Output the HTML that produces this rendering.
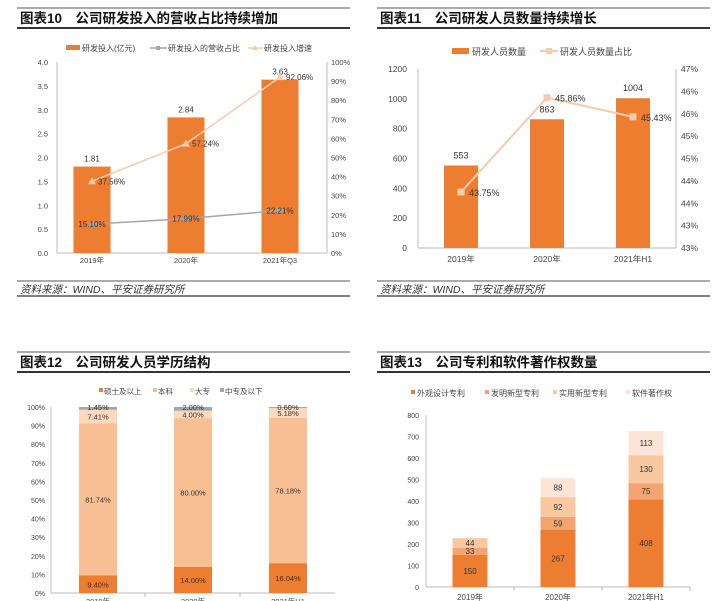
<!DOCTYPE html>
<html><head><meta charset="utf-8"><style>
html,body{margin:0;padding:0;background:#fff;}
svg{display:block;font-family:"Liberation Sans","Noto Sans CJK SC",sans-serif;}
.t{font-size:13.5px;font-weight:bold;fill:#111;}
.ax{font-size:7.5px;fill:#444;}
.lg{font-size:8px;fill:#444;}
.lb{font-size:8px;fill:#333;}
.src{font-size:10.5px;font-style:italic;fill:#333;}
</style></head><body>
<svg id="s" width="720" height="601" viewBox="0 0 720 601" xmlns="http://www.w3.org/2000/svg"></svg>
<script>
// Chart 10
const c10Cats = ['2019年','2020年','2021年Q3'];
const c10Invest = [1.81, 2.84, 3.63];
const c10Ratio = [15.10, 17.99, 22.21];
const c10Growth = [37.56, 57.24, 92.06];
const c10LeftTicks = ['0.0','0.5','1.0','1.5','2.0','2.5','3.0','3.5','4.0'];
const c10RightTicks = ['0%','10%','20%','30%','40%','50%','60%','70%','80%','90%','100%'];
// Chart 11
const c11Cats = ['2019年','2020年','2021年H1'];
const c11Staff = [553, 863, 1004];
const c11Share = [43.75, 45.86, 45.43];
const c11LeftTicks = ['0','200','400','600','800','1000','1200'];
const c11RightTicks = ['43%','43%','44%','44%','45%','45%','46%','46%','47%'];
// Chart 12
const c12Cats = ['2019年','2020年','2021年H1'];
const c12Master = [9.40, 14.00, 16.04];
const c12Bachelor = [81.74, 80.00, 78.18];
const c12College = [7.41, 4.00, 5.18];
const c12Below = [1.45, 2.00, 0.60];
const c12Ticks = ['0%','10%','20%','30%','40%','50%','60%','70%','80%','90%','100%'];
// Chart 13
const c13Cats = ['2019年','2020年','2021年H1'];
const c13Design = [150, 267, 408];
const c13Invention = [33, 59, 75];
const c13Utility = [44, 92, 130];
const c13Software = [0, 88, 113];
const c13Ticks = ['0','100','200','300','400','500','600','700','800'];

const S = document.getElementById('s');
const NS = 'http://www.w3.org/2000/svg';
function mk(tag, attrs, parent, text){
  const e = document.createElementNS(NS, tag);
  for (const k in attrs) e.setAttribute(k, attrs[k]);
  if (text !== undefined) e.textContent = text;
  (parent || S).appendChild(e);
  return e;
}
function frame(x0, y0, w, title, withSource, name){
  const g = mk('g', {});
  
  
  mk('line', {x1:x0, y1:y0, x2:x0+w, y2:y0, stroke:'#555', 'stroke-width':1}, g);
  mk('line', {x1:x0, y1:y0+20, x2:x0+w, y2:y0+20, stroke:'#333', 'stroke-width':2}, g);
  const t = mk('text', {x:x0+3, y:y0+15, class:'t'}, g, title);
  
  
  if (withSource){
    mk('line', {x1:x0, y1:y0+273, x2:x0+w, y2:y0+273, stroke:'#555', 'stroke-width':1}, g);
    mk('line', {x1:x0, y1:y0+288, x2:x0+w, y2:y0+288, stroke:'#555', 'stroke-width':1.5}, g);
    const s = mk('text', {x:x0+3, y:y0+285, class:'src'}, g, '资料来源：WIND、平安证券研究所');
    
    
  }
  return g;
}

// ===== Chart 10 =====
(function(){
  const g = frame(17, 8, 333, '图表10　公司研发投入的营收占比持续增加', true, 'chart-rd-investment');
  const yB = v => 253 - v/4*191;
  const yR = v => 253 - v/100*191;
  const xc = i => 92 + i*94;
  c10LeftTicks.forEach((t,i)=>{ const e=mk('text',{x:48,y:yB(i*0.5)+3,class:'ax','text-anchor':'end'},g,t);   });
  c10RightTicks.forEach((t,i)=>{ const e=mk('text',{x:331,y:yR(i*10)+3,class:'ax'},g,t);   });
  mk('line',{x1:57,y1:62,x2:57,y2:253,stroke:'#bbb'},g);
  mk('line',{x1:327,y1:62,x2:327,y2:253,stroke:'#bbb'},g);
  mk('line',{x1:57,y1:253,x2:327,y2:253,stroke:'#bbb'},g);
  c10Invest.forEach((v,i)=>{
    const r = mk('rect',{x:xc(i)-18.5,y:yB(v),width:37,height:253-yB(v),fill:'#ED7D31'},g);
    
    
    mk('text',{x:xc(i),y:yB(v)-5,class:'lb','text-anchor':'middle'},g,v.toFixed(2));
    const c = mk('text',{x:xc(i),y:263,class:'ax','text-anchor':'middle'},g,c10Cats[i]);
     
  });
  const pg = c10Growth.map((v,i)=>xc(i)+','+yR(v)).join(' ');
  const lg = mk('polyline',{points:pg,fill:'none',stroke:'#F8CBAD','stroke-width':1.5},g);
   
  c10Growth.forEach((v,i)=>{ mk('path',{d:`M${xc(i)},${yR(v)-4}l4,7h-8z`,fill:'#F8CBAD'},g); mk('text',{x:xc(i)+6,y:yR(v)+3,class:'lb'},g,v.toFixed(2)+'%'); });
  const pr = c10Ratio.map((v,i)=>xc(i)+','+yR(v)).join(' ');
  const lr = mk('polyline',{points:pr,fill:'none',stroke:'#A5A5A5','stroke-width':1.5},g);
   
  c10Ratio.forEach((v,i)=>{ mk('rect',{x:xc(i)-3,y:yR(v)-3,width:6,height:6,fill:'#A5A5A5'},g); mk('text',{x:xc(i),y:yR(v)+3,class:'lb','text-anchor':'middle'},g,v.toFixed(2)+'%'); });
  const L = mk('g',{},g);  
  mk('rect',{x:66,y:45,width:14,height:5,fill:'#ED7D31'},L); mk('text',{x:82,y:51,class:'lg'},L,'研发投入(亿元)');
  mk('line',{x1:150,y1:48,x2:167,y2:48,stroke:'#A5A5A5','stroke-width':1.5},L); mk('rect',{x:156,y:46,width:4,height:4,fill:'#A5A5A5'},L); mk('text',{x:168,y:51,class:'lg'},L,'研发投入的营收占比');
  mk('line',{x1:248,y1:48,x2:263,y2:48,stroke:'#F8CBAD','stroke-width':1.5},L); mk('path',{d:'M255,45l3,5h-6z',fill:'#F8CBAD'},L); mk('text',{x:264,y:51,class:'lg'},L,'研发投入增速');
})();

// ===== Chart 11 =====
(function(){
  const g = frame(377, 8, 333, '图表11　公司研发人员数量持续增长', true, 'chart-rd-staff');
  const yB = v => 248 - v/1200*179;
  const yR = v => 248 - (v-42.5)/4*179;
  const xc = i => 461 + i*86;
  c11LeftTicks.forEach((t,i)=>{ const e=mk('text',{x:407,y:yB(i*200)+3,class:'ax','text-anchor':'end',style:'font-size:8.5px'},g,t);   });
  c11RightTicks.forEach((t,i)=>{ const e=mk('text',{x:681,y:yR(42.5+i*0.5)+3,class:'ax',style:'font-size:8.5px'},g,t);   });
  mk('line',{x1:418,y1:69,x2:418,y2:248,stroke:'#bbb'},g);
  mk('line',{x1:676,y1:69,x2:676,y2:248,stroke:'#bbb'},g);
  mk('line',{x1:418,y1:248,x2:676,y2:248,stroke:'#bbb'},g);
  c11Staff.forEach((v,i)=>{
    const r = mk('rect',{x:xc(i)-17,y:yB(v),width:34,height:248-yB(v),fill:'#ED7D31'},g);
     
    mk('text',{x:xc(i),y:yB(v)-7,class:'lb','text-anchor':'middle',style:'font-size:9px'},g,String(v));
    const c = mk('text',{x:xc(i),y:262,class:'ax','text-anchor':'middle',style:'font-size:8.5px'},g,c11Cats[i]);
     
  });
  const pts = c11Share.map((v,i)=>xc(i)+','+yR(v)).join(' ');
  const l = mk('polyline',{points:pts,fill:'none',stroke:'#F8CBAD','stroke-width':2},g);
   
  c11Share.forEach((v,i)=>{ mk('rect',{x:xc(i)-3.5,y:yR(v)-3.5,width:7,height:7,fill:'#F8CBAD'},g); mk('text',{x:xc(i)+8,y:yR(v)+4,class:'lb',style:'font-size:9px'},g,v.toFixed(2)+'%'); });
  const L = mk('g',{},g);  
  mk('rect',{x:452,y:48,width:17,height:6,fill:'#ED7D31'},L); mk('text',{x:472,y:55,class:'lg',style:'font-size:9px'},L,'研发人员数量');
  mk('line',{x1:540,y1:51,x2:558,y2:51,stroke:'#F8CBAD','stroke-width':2},L); mk('rect',{x:546,y:48,width:6,height:6,fill:'#F8CBAD'},L); mk('text',{x:560,y:55,class:'lg',style:'font-size:9px'},L,'研发人员数量占比');
})();

// ===== Chart 12 =====
(function(){
  const g = frame(17, 352, 333, '图表12　公司研发人员学历结构', false, 'chart-education');
  const y = v => 593 - v/100*186;
  const xc = i => 98 + i*95;
  c12Ticks.forEach((t,i)=>{ const e=mk('text',{x:45,y:y(i*10)+3,class:'ax',style:'font-size:7px','text-anchor':'end'},g,t);   });
  mk('line',{x1:51,y1:407,x2:51,y2:593,stroke:'#bbb'},g);
  mk('line',{x1:51,y1:593,x2:335,y2:593,stroke:'#bbb'},g);
  [145,240].forEach(x=>mk('line',{x1:x,y1:593,x2:x,y2:597,stroke:'#bbb'},g));
  const series = [[c12Master,'#ED7D31','master'],[c12Bachelor,'#F8BF94','bachelor'],[c12College,'#FBD9BD','college'],[c12Below,'#A6A6A6','below']];
  c12Cats.forEach((cat,i)=>{
    let acc = 0;
    series.forEach(([arr,col,nm],k)=>{
      const v = arr[i];
      const r = mk('rect',{x:xc(i)-19,y:y(acc+v),width:38,height:y(acc)-y(acc+v),fill:col},g);
       
      const ty = k===3 ? y(acc+v)+3 : (y(acc)+y(acc+v))/2+3;
      mk('text',{x:xc(i),y:ty,class:'lb','text-anchor':'middle',style:'font-size:7.5px'},g,v.toFixed(2)+'%');
      acc += v;
    });
    const c = mk('text',{x:xc(i),y:604,class:'ax','text-anchor':'middle'},g,cat);
     
  });
  const L = mk('g',{},g);  
  const items = [['硕士及以上','#ED7D31',99],['本科','#F8BF94',153],['大专','#FBD9BD',190],['中专及以下','#A6A6A6',220]];
  items.forEach(([t,c,x])=>{ mk('rect',{x:x,y:388,width:4,height:4,fill:c},L); mk('text',{x:x+5,y:394,class:'lg',style:'font-size:7.5px'},L,t); });
})();

// ===== Chart 13 =====
(function(){
  const g = frame(377, 352, 333, '图表13　公司专利和软件著作权数量', false, 'chart-patents');
  const y = v => 587 - v/800*172;
  const xc = i => 470 + i*88;
  c13Ticks.forEach((t,i)=>{ const e=mk('text',{x:419,y:y(i*100)+3,class:'ax','text-anchor':'end',style:'font-size:7px'},g,t);   });
  mk('line',{x1:426,y1:415,x2:426,y2:587,stroke:'#bbb'},g);
  mk('line',{x1:426,y1:587,x2:690,y2:587,stroke:'#bbb'},g);
  [514,602,690].forEach(x=>mk('line',{x1:x,y1:587,x2:x,y2:591,stroke:'#bbb'},g));
  const series = [[c13Design,'#ED7D31','design'],[c13Invention,'#F4A46E','invention'],[c13Utility,'#F8C8A0','utility'],[c13Software,'#FCE4D6','software']];
  c13Cats.forEach((cat,i)=>{
    let acc = 0;
    series.forEach(([arr,col,nm])=>{
      const v = arr[i];
      if (v <= 0) return;
      const r = mk('rect',{x:xc(i)-17.5,y:y(acc+v),width:35,height:y(acc)-y(acc+v),fill:col},g);
       
      mk('text',{x:xc(i),y:(y(acc)+y(acc+v))/2+3,class:'lb','text-anchor':'middle'},g,String(v));
      acc += v;
    });
    const c = mk('text',{x:xc(i),y:600,class:'ax','text-anchor':'middle',style:'font-size:8px'},g,cat);
     
  });
  const L = mk('g',{},g);  
  const items = [['外观设计专利','#ED7D31',411],['发明新型专利','#F4A46E',485],['实用新型专利','#F8C8A0',553],['软件著作权','#FCE4D6',626]];
  items.forEach(([t,c,x])=>{ mk('rect',{x:x,y:390,width:4,height:4,fill:c},L); mk('text',{x:x+6,y:396,class:'lg'},L,t); });
})();
</script>
</body></html>
